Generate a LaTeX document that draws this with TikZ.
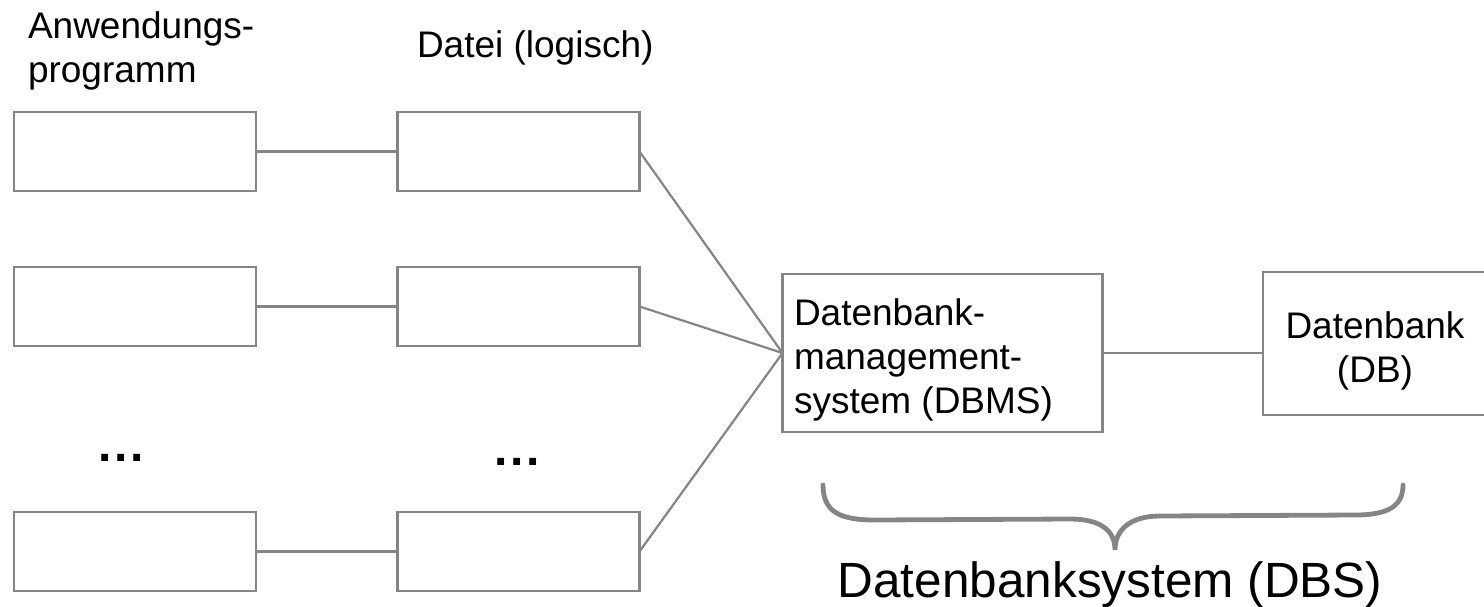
\documentclass[tikz,border=0pt]{standalone}
\usepackage{fontspec}
\setmainfont{Liberation Sans}
\begin{document}
\begin{tikzpicture}[x=1pt,y=-1pt,
  every node/.style={inner sep=0pt, outer sep=0pt},
  box/.style={draw=linegray, line width=2.6pt, fill=white},
  smallbox/.style={box, minimum width=242pt, minimum height=79pt},
  link/.style={draw=linegray, line width=2.2pt},
  label/.style={font=\fontsize{37}{44}\selectfont, align=left},
  dots/.style={font=\fontsize{48}{48}\selectfont\bfseries, anchor=base},
  brace/.style={draw=linegray, line width=4.8pt, line cap=round}]
\definecolor{linegray}{HTML}{858585}
\useasboundingbox (0,0) rectangle (1484,606);
\clip (0,0) rectangle (1484,606);

% column headings (base anchor = baseline of the last line)
\node[label, anchor=base west] (hApp) at (28,82) {Anwendungs-\\programm};
\node[label, anchor=base west] (hFile) at (417,57) {Datei (logisch)};

% application programs and logical files
\node[smallbox] (a1) at (135,151.5) {};
\node[smallbox] (b1) at (518.5,151.5) {};
\node[smallbox] (a2) at (135,306.5) {};
\node[smallbox] (b2) at (518.5,306.5) {};
\node[smallbox] (a3) at (135,551.5) {};
\node[smallbox] (b3) at (518.5,551.5) {};

\node[dots] (d1) at (121,461.5) {.\kern2.7pt.\kern2.7pt.};
\node[dots] (d2) at (517,465.5) {.\kern2.7pt.\kern2.7pt.};

% DBMS and database
\node[box, minimum width=320pt, minimum height=158pt] (dbms) at (942.5,353) {};
\node[label, anchor=base west] (dbmsText) at (794,413) {Datenbank-\\management-\\system (DBMS)};
\node[box, minimum width=224pt, minimum height=143pt] (db) at (1375,343.5) {};
\node[label, align=center, anchor=base] (dbText) at (1375,382) {Datenbank\\(DB)};

% connectors
\draw[link] (a1.east) -- (b1.west);
\draw[link] (a2.east) -- (b2.west);
\draw[link] (a3.east) -- (b3.west);
\draw[link] (b1.east) -- (dbms.west);
\draw[link] (b2.east) -- (dbms.west);
\draw[link] (b3.east) -- (dbms.west);
\draw[link] (dbms.east) -- (dbms.east -| db.west);

% brace spanning DBMS and DB
\coordinate (bl) at (823,485);
\coordinate (bt) at (1115,550);
\coordinate (br) at (1403,485);
\draw[brace] (bl) .. controls (823,512) and (840,520) .. (875,520)
  -- (1070,519) .. controls (1100,519) and (1115,530) .. (bt)
  .. controls (1115,530) and (1130,516) .. (1160,516)
  -- (1355,515) .. controls (1390,515) and (1403,505) .. (br);
\node[font=\fontsize{49.5}{50}\selectfont, anchor=base] (dbs) at (1110,597) {Datenbanksystem (DBS)};
\end{tikzpicture}
\end{document}
